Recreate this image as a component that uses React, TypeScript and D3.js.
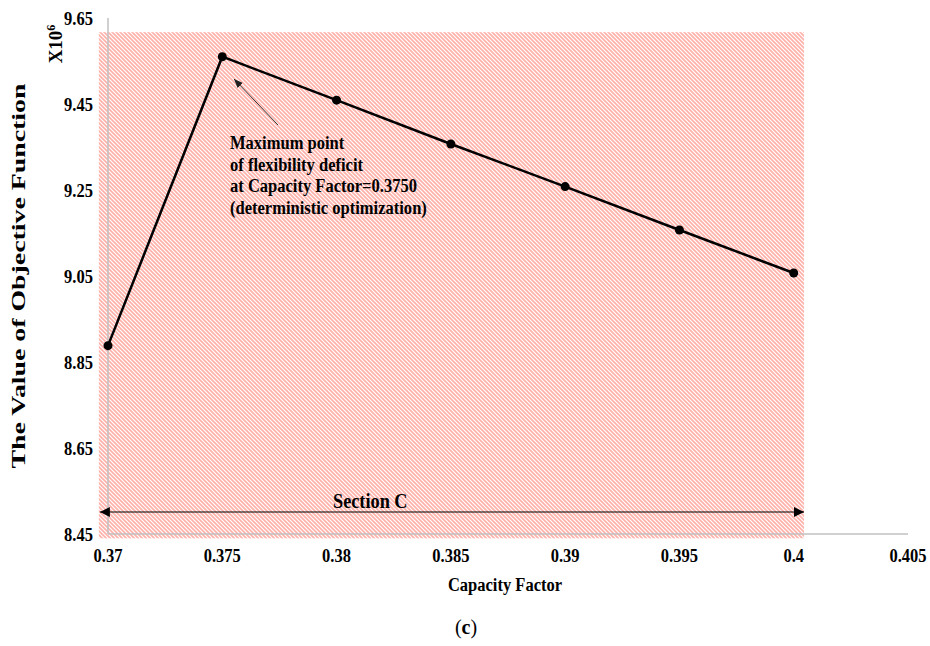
import React from "react";
import * as d3 from "d3";

const capacityFactor = [0.37, 0.375, 0.38, 0.385, 0.39, 0.395, 0.4];
const objectiveValue = [8.888, 9.56, 9.459, 9.357, 9.258, 9.157, 9.057];
const xTicks = [0.37, 0.375, 0.38, 0.385, 0.39, 0.395, 0.4, 0.405];
const xTickLabels = ["0.37", "0.375", "0.38", "0.385", "0.39", "0.395", "0.4", "0.405"];
const yTicks = [8.45, 8.65, 8.85, 9.05, 9.25, 9.45, 9.65];
const yTickLabels = ["8.45", "8.65", "8.85", "9.05", "9.25", "9.45", "9.65"];
const sectionRange = [0.3696, 0.40045];
const sectionValueRange = [8.44, 9.617];
const annotationLines = [
  "Maximum point",
  "of flexibility deficit",
  "at Capacity Factor=0.3750",
  "(deterministic optimization)",
];

const W = 930;
const H = 646;
const FONT = "'Liberation Serif', 'Times New Roman', serif";
const SX = 0.87;

function T(props: {
  x: number;
  y: number;
  size?: number;
  anchor?: string;
  weight?: string;
  children: React.ReactNode;
}) {
  const { x, y, size = 19, anchor = "start", weight = "bold", children } = props;
  return (
    <text
      transform={`translate(${x},${y}) scale(${SX},1)`}
      textAnchor={anchor as any}
      fontSize={size}
      fontWeight={weight}
    >
      {children}
    </text>
  );
}

export default function App() {
  const x = d3.scaleLinear().domain([0.37, 0.405]).range([108, 908]);
  const y = d3.scaleLinear().domain([8.45, 9.65]).range([534, 18]);
  const pts = capacityFactor.map((c, i) => [c, objectiveValue[i]] as [number, number]);
  const line = d3
    .line<[number, number]>()
    .x((d) => x(d[0]))
    .y((d) => y(d[1]));

  const hx0 = x(sectionRange[0]);
  const hx1 = x(sectionRange[1]);
  const hy0 = y(sectionValueRange[1]);
  const hy1 = y(sectionValueRange[0]);
  const arrowY = 512;

  return (
    <svg
      width={W}
      height={H}
      viewBox={`0 0 ${W} ${H}`}
      style={{ position: "absolute", left: 0, top: 0, background: "#fff" }}
      fontFamily={FONT}
    >
      <defs>
        <pattern id="hatch" width="4" height="4" patternUnits="userSpaceOnUse">
          <rect width="4" height="4" fill="#fff" />
          <path d="M-1,-1 L5,5 M-1,3 L1,5 M3,-1 L5,1" stroke="#ffb0a8" strokeWidth="1.6" />
        </pattern>
        <marker id="ah" viewBox="0 0 10 10" refX="10" refY="5" markerWidth="10" markerHeight="10" markerUnits="userSpaceOnUse" orient="auto-start-reverse">
          <path d="M0,0 L10,5 L0,10 z" fill="#000" />
        </marker>
        <marker id="ah2" viewBox="0 0 10 10" refX="10" refY="5" markerWidth="9" markerHeight="9" markerUnits="userSpaceOnUse" orient="auto">
          <path d="M0,1 L10,5 L0,9 z" fill="#222" />
        </marker>
      </defs>

      <rect x={hx0} y={hy0} width={hx1 - hx0} height={hy1 - hy0} fill="url(#hatch)" />

      {/* axes */}
      <line x1={x(0.37)} x2={x(0.37)} y1={y(9.65)} y2={y(8.45)} stroke="#c0c0c0" strokeWidth={1.5} />
      <line x1={x(0.37)} x2={x(0.405)} y1={y(8.45)} y2={y(8.45)} stroke="#c0c0c0" strokeWidth={1.5} />

      {yTicks.map((t, i) => (
        <T key={t} x={93} y={y(t) + 7} anchor="end">
          {yTickLabels[i]}
        </T>
      ))}
      {xTicks.map((t, i) => (
        <T key={t} x={x(t)} y={562} anchor="middle">
          {xTickLabels[i]}
        </T>
      ))}

      {/* section arrow */}
      <line x1={hx0 + 1} x2={hx1} y1={arrowY} y2={arrowY} stroke="#000" strokeWidth={1.2} markerStart="url(#ah)" markerEnd="url(#ah)" />
      <T x={333} y={508} size={21}>Section C</T>

      {/* data line */}
      <path d={line(pts) ?? ""} fill="none" stroke="#000" strokeWidth={2.5} />
      {pts.map((p, i) => (
        <circle key={i} cx={x(p[0])} cy={y(p[1])} r={4.5} fill="#000" />
      ))}

      {/* annotation */}
      <line x1={278} y1={125} x2={234} y2={79} stroke="#333" strokeWidth={1} markerEnd="url(#ah2)" />
      {annotationLines.map((l, i) => (
        <T key={i} x={230} y={149 + i * 21.5}>{l}</T>
      ))}

      {/* axis titles */}
      <text
        transform="translate(25,276) rotate(-90)"
        textAnchor="middle"
        fontSize={19}
        fontWeight="bold"
        textLength={385}
        lengthAdjust="spacingAndGlyphs"
      >
        The Value of Objective Function
      </text>
      <text transform="translate(62,44) rotate(-90)" textAnchor="middle" fontSize={19} fontWeight="bold">
        X10<tspan dy={-7} fontSize={12}>6</tspan>
      </text>
      <T x={505} y={591} anchor="middle">Capacity Factor</T>
      <text x={466} y={634} textAnchor="middle" fontSize={20}>
        (<tspan fontWeight="bold">c</tspan>)
      </text>
    </svg>
  );
}
